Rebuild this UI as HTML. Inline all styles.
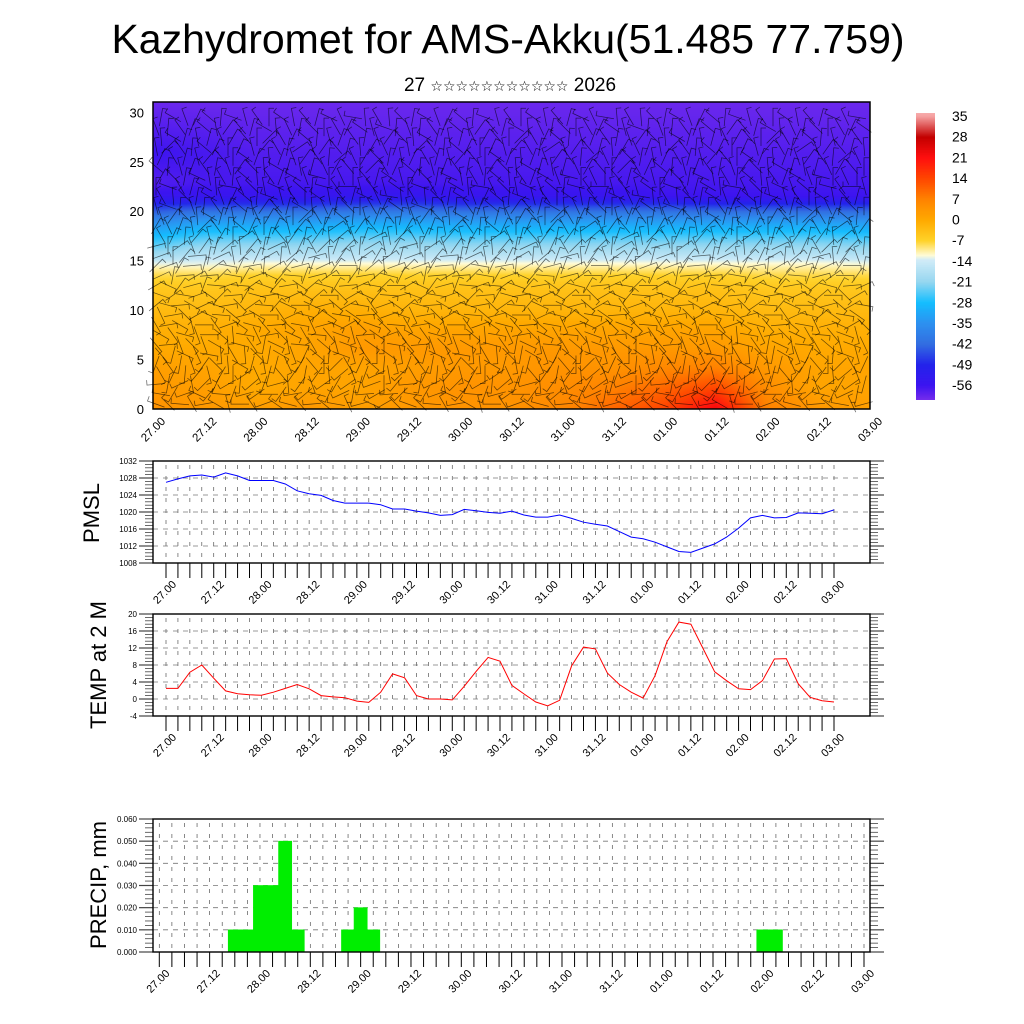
<!DOCTYPE html>
<html><head><meta charset="utf-8"><style>
html,body{margin:0;padding:0;background:#fff;width:1024px;height:1024px;overflow:hidden}
#wrap{position:relative;width:1024px;height:1024px;font-family:"Liberation Sans",sans-serif}
canvas{position:absolute}
svg{position:absolute;left:0;top:0}
</style></head><body>
<div id="wrap">
<canvas id="heat" width="179" height="77" style="left:153px;top:102px;width:717px;height:307px"></canvas>
<canvas id="cbar" width="1" height="287" style="left:916px;top:113px;width:19px;height:287px"></canvas>
<svg id="svg" width="1024" height="1024" xmlns="http://www.w3.org/2000/svg">
<text x="508" y="53" text-anchor="middle" font-size="41">Kazhydromet for AMS-Akku(51.485 77.759)</text>
<text x="510" y="91" text-anchor="middle" font-size="19" font-family="Liberation Sans, DejaVu Sans, sans-serif">27 <tspan font-size="14">☆☆☆☆☆☆☆☆☆☆☆</tspan> 2026</text>
<text transform="translate(99,513) rotate(-90)" text-anchor="middle" font-size="22">PMSL</text>
<text transform="translate(106,665) rotate(-90)" text-anchor="middle" font-size="22">TEMP at 2 M</text>
<text transform="translate(106,885) rotate(-90)" text-anchor="middle" font-size="22">PRECIP, mm</text>
</svg>
</div>
<script>
// ---- data ----
const timeLabels=["27.00","27.12","28.00","28.12","29.00","29.12","30.00","30.12","31.00","31.12","01.00","01.12","02.00","02.12","03.00"];
const pmsl=[1027.0,1027.8,1028.5,1028.7,1028.2,1029.2,1028.5,1027.4,1027.4,1027.4,1026.6,1025.0,1024.3,1023.9,1022.7,1022.1,1022.1,1022.1,1021.7,1020.7,1020.7,1020.2,1019.8,1019.2,1019.4,1020.6,1020.3,1019.9,1019.7,1020.2,1019.3,1018.8,1018.8,1019.3,1018.5,1017.6,1017.1,1016.7,1015.4,1014.1,1013.7,1012.9,1011.8,1010.7,1010.5,1011.5,1012.5,1014.1,1016.2,1018.6,1019.2,1018.6,1018.7,1019.8,1019.7,1019.6,1020.5];
const temp2m=[2.5,2.5,6.3,8.0,4.9,1.9,1.25,1.0,0.9,1.6,2.5,3.4,2.4,0.8,0.5,0.3,-0.5,-0.8,1.6,5.9,5.0,0.8,0,0,-0.2,3.0,6.5,9.8,8.9,3.2,1.2,-0.7,-1.6,-0.3,7.8,12.2,11.8,6.1,3.4,1.6,0.2,5.5,13.5,18.1,17.6,12,6.4,4.3,2.4,2.2,4.3,9.4,9.5,3.6,0.4,-0.4,-0.7];
const precip=[0,0,0,0,0,0,0.01,0.01,0.03,0.03,0.05,0.01,0,0,0,0.01,0.02,0.01,0,0,0,0,0,0,0,0,0,0,0,0,0,0,0,0,0,0,0,0,0,0,0,0,0,0,0,0,0,0,0.01,0.01,0,0,0,0,0,0,0];
const pmslTicks=[1008,1012,1016,1020,1024,1028,1032];
const tempTicks=[-4,0,4,8,12,16,20];
const precipTicks=[0,0.01,0.02,0.03,0.04,0.05,0.06];
const precipTickLabels=["0.000","0.010","0.020","0.030","0.040","0.050","0.060"];
const heightTicks=[0,5,10,15,20,25,30];
const cbarLabels=[35,28,21,14,7,0,-7,-14,-21,-28,-35,-42,-49,-56];
const levels=[0,2,4,6,8,10,12,13.5,14.6,15.2,17,19,20.5,21.5,23,26,31];
const tz0=[4,3,2,3,2,3,4,4,6,10,14,22,7,3,2];
const tz2=[3,2,0,1,1,3,4,4,5,7,10,14,5,1,1];
const tz4=[2,1,0,1,1,2,3,3,4,4,6,7,3,1,1];
const tz6=[0,0,0,1,3,3,3,3,3,3,3,3,1,0,0];
const tz8=[-1,-1,0,1,2,1,1,1,1,1,1,1,-1,-1,-1];
const tz10=[-3,-3,-2,-1,-1,-2,-2,-2,-2,-2,-2,-2,-3,-3,-3];
const tz12=[-5,-5,-4,-4,-4,-4,-4,-4,-4,-4,-4,-4,-5,-5,-5];
const tz13=[-8,-8,-7,-7,-7,-7,-7,-7,-7,-7,-7,-7,-8,-8,-8];
const tz14=[-12,-12.5,-11.5,-11.5,-11.5,-11.5,-11.5,-11.5,-11.5,-11.5,-11.5,-11.5,-11.5,-11.5,-12];
const tz15=[-18,-15,-15,-15,-15,-15,-15,-15,-15,-15,-15,-15,-15,-15,-16];
const tz17=[-26,-23,-23,-23,-22,-22,-23,-23,-23,-23,-23,-23,-23,-23,-24];
const tz19=[-36,-33,-33,-33,-32,-32,-33,-33,-33,-33,-33,-33,-33,-33,-34];
const tz20=[-47,-45,-45,-45,-44,-44,-45,-45,-45,-45,-45,-46,-46,-46,-46];
const tz21=[-55,-55,-55,-55,-54,-54,-55,-55,-55,-55,-56,-56,-56,-56,-56];
const tz23=[-58,-57,-57,-57,-57,-57,-57,-57,-57,-57,-57,-57,-57,-57,-57];
const tz26=[-56,-57,-58,-58,-58,-58,-58,-58,-58,-58,-58,-58,-58,-58,-58];
const tz31=[-60,-60,-60,-60,-60,-60,-60,-60,-60,-60,-60,-60,-60,-60,-60];
const tgrid=[tz0,tz2,tz4,tz6,tz8,tz10,tz12,tz13,tz14,tz15,tz17,tz19,tz20,tz21,tz23,tz26,tz31];
const windRowDir=[200,150,120,100,80,60,45,30,20,10,0,-10,-20,-30,-45,-60,-70,-80,-90,-100,-110,-120,-130,-115,-100,-95,-90,-100,-110,-120];
const windColDir=[0,25,-15,40,-30,10,55,-20,35,-40,15,-5,30,-25,20,-10,45,-35,5,-50,25];

// ---- colormap ----
const cstops=[[38,[250,190,190]],[35,[245,160,160]],[28,[195,0,0]],[21,[255,15,15]],[14,[255,70,0]],[7,[255,130,0]],[0,[255,170,0]],[-7,[255,210,40]],[-12,[255,252,215]],[-13.5,[210,236,248]],[-21,[150,215,240]],[-28,[20,190,255]],[-35,[45,145,240]],[-42,[50,110,225]],[-49,[35,35,235]],[-56,[60,20,240]],[-62,[130,50,235]]];
function cmap(t){
  if(t>=cstops[0][0])return cstops[0][1];
  for(let k=0;k<cstops.length-1;k++){const a=cstops[k],b=cstops[k+1];
    if(t<=a[0]&&t>=b[0]){const f=(a[0]-t)/(a[0]-b[0]);return a[1].map((v,i)=>Math.round(v+(b[1][i]-v)*f));}}
  return cstops[cstops.length-1][1];
}
(function(){
  const c=document.getElementById('heat'),ctx=c.getContext('2d');
  const W=c.width,H=c.height,img=ctx.createImageData(W,H);
  for(let py=0;py<H;py++){
    const z=31*(1-py/(H-1));
    let l=0;while(l<levels.length-2&&z>levels[l+1])l++;
    const fz=Math.min(1,Math.max(0,(z-levels[l])/(levels[l+1]-levels[l])));
    for(let px=0;px<W;px++){
      const tc=px/(W-1)*14;const ci=Math.min(13,Math.floor(tc)),fc=tc-ci;
      const a=tgrid[l][ci]*(1-fc)+tgrid[l][ci+1]*fc;
      const b=tgrid[l+1][ci]*(1-fc)+tgrid[l+1][ci+1]*fc;
      const col=cmap(a*(1-fz)+b*fz);const o=(py*W+px)*4;
      img.data[o]=col[0];img.data[o+1]=col[1];img.data[o+2]=col[2];img.data[o+3]=255;}
  }
  ctx.putImageData(img,0,0);
  const cb=document.getElementById('cbar'),cc=cb.getContext('2d');
  for(let py=0;py<cb.height;py++){const t=36-(py/(cb.height-1))*96.7;const col=cmap(t);
    cc.fillStyle='rgb('+col.join(',')+')';cc.fillRect(0,py,1,1);}
})();

const NS='http://www.w3.org/2000/svg',svgRoot=document.getElementById('svg');
function el(tag,attrs,parent){const e=document.createElementNS(NS,tag);for(const k in attrs)e.setAttribute(k,attrs[k]);(parent||svgRoot).appendChild(e);return e;}

// ---- top panel ----
const hy=z=>409-z*(409-112.3)/30;
const tx=i=>153+i*(717/14);
const barbs=el('g',{stroke:'#000','stroke-opacity':'0.6','stroke-width':'0.75',fill:'none'});


for(let r=0;r<windRowDir.length;r++){
  for(let c=0;c<60;c++){
    const cx=156+c*12+(r%2)*5,cy=hy(r+0.5);
    if(cx>864)continue;
    const ang=(windRowDir[r]+windColDir[(c+r*3)%windColDir.length])*Math.PI/180;
    const L=9,dx=Math.cos(ang)*L,dy=Math.sin(ang)*L;
    const ex=cx+dx,ey=cy+dy;
    const ln=el('path',{d:`M${(cx-dx).toFixed(1)},${(cy-dy).toFixed(1)}L${ex.toFixed(1)},${ey.toFixed(1)}l${(-Math.sin(ang)*5).toFixed(1)},${(Math.cos(ang)*5).toFixed(1)}`},barbs);
    
    
  }
}
const tf=el('rect',{x:153,y:102,width:717,height:307,fill:'none',stroke:'#000','stroke-width':1.5});


heightTicks.forEach(h=>{
  const t=el('text',{x:144,y:hy(h)+5,'text-anchor':'end','font-size':13});t.textContent=h;
  
  
});
timeLabels.forEach((s,i)=>{
  const x=tx(i)+13,y=422;
  const t=el('text',{transform:`translate(${x},${y}) rotate(-45)`,'text-anchor':'end','font-size':11.5});t.textContent=s;
  
  
});
cbarLabels.forEach((v,i)=>{
  const t=el('text',{x:952,y:121+i*20.7,'font-size':14});t.textContent=v;
  
  
});

// ---- lower panels ----
function panel(cfg){
  const g=el('g',{});
  
  
  const {fx0,fx1,y0,y1,x0,x1,vmin,vmax,n}=cfg;
  const X=i=>x0+i*(x1-x0)/(n-1);
  const Y=v=>y1-(v-vmin)/(vmax-vmin)*(y1-y0);
  for(let i=0;i<n;i++){const x=X(i);el('line',{x1:x,x2:x,y1:y0+4,y2:y1-2,stroke:'#555','stroke-width':0.7,'stroke-dasharray':'4,7'},g);}
  cfg.ticks.forEach((v,k)=>{if(k===0||k===cfg.ticks.length-1)return;const y=Y(v);el('line',{x1:fx0,x2:fx1,y1:y,y2:y,stroke:'#777','stroke-width':0.8,'stroke-dasharray':'5,5'},g);});
  const step=cfg.ticks[1]-cfg.ticks[0];
  for(let k=0;k<=(cfg.ticks.length-1)*5;k++){const v=vmin+k*step/5;const y=Y(v);const major=k%5===0;
    const L=major?14:8;
    el('line',{x1:fx0-L,x2:fx0,y1:y,y2:y,stroke:'#444','stroke-width':major?1.2:0.8},g);
    el('line',{x1:fx1,x2:fx1+L,y1:y,y2:y,stroke:'#444','stroke-width':major?1.2:0.8},g);}
  cfg.ticks.forEach((v,k)=>{const t=el('text',{x:fx0-16,y:Y(v)+3,'text-anchor':'end','font-size':8},g);t.textContent=cfg.tickLabels?cfg.tickLabels[k]:v;
    
    });
  for(let i=0;i<n;i++){const x=X(i);el('line',{x1:x,x2:x,y1:y1,y2:y1+15,stroke:'#000','stroke-width':1},g);}
  timeLabels.forEach((s,j)=>{const x=x0+j*(x1-x0)/14+11,y=y1+22;
    const t=el('text',{transform:`translate(${x},${y}) rotate(-45)`,'text-anchor':'end','font-size':11},g);t.textContent=s;
    
    });
  cfg.draw(g,X,Y);
  const f=el('rect',{x:fx0,y:y0,width:fx1-fx0,height:y1-y0,fill:'none',stroke:'#000','stroke-width':1.4},g);
  
  
}
panel({name:'pmsl-panel',fx0:153,fx1:870,y0:461,y1:563,x0:166,x1:834,vmin:1008,vmax:1032,n:57,ticks:pmslTicks,
  draw:(g,X,Y)=>{const p=el('polyline',{points:pmsl.map((v,i)=>X(i).toFixed(1)+','+Y(v).toFixed(1)).join(' '),fill:'none',stroke:'#00f','stroke-width':1},g);
    
    }});
panel({name:'temp-panel',fx0:153,fx1:870,y0:614,y1:716,x0:166,x1:834,vmin:-4,vmax:20,n:57,ticks:tempTicks,
  draw:(g,X,Y)=>{const p=el('polyline',{points:temp2m.map((v,i)=>X(i).toFixed(1)+','+Y(v).toFixed(1)).join(' '),fill:'none',stroke:'#f00','stroke-width':1},g);
    
    }});
panel({name:'precip-panel',fx0:153,fx1:870,y0:819,y1:952,x0:159.3,x1:864,vmin:0,vmax:0.06,n:57,ticks:precipTicks,tickLabels:precipTickLabels,
  draw:(g,X,Y)=>{const w=(864-159.3)/56;precip.forEach((v,i)=>{if(v<=0)return;
    const b=el('rect',{x:X(i)-w/2-0.3,y:Y(v),width:w+0.6,height:Y(0)-Y(v),fill:'#00ee00',stroke:'#00ee00','stroke-width':0.6},g);
    
    });}});
</script>
</body></html>
